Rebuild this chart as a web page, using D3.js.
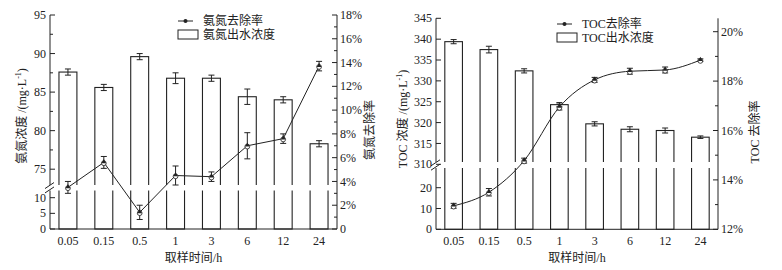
<!DOCTYPE html>
<html>
<head>
<meta charset="utf-8">
<script src="https://cdn.jsdelivr.net/npm/d3@7/dist/d3.min.js"></script>
<style>
  html, body { margin: 0; padding: 0; background: #fff; }
  svg { display: block; }
  text { font-family: "Liberation Serif", "Noto Sans CJK SC", serif; fill: #222; }
</style>
</head>
<body>
<svg id="chart" width="782" height="270"></svg>
<script>
// 取样时间（类别）
const timeLabels = ["0.05", "0.15", "0.5", "1", "3", "6", "12", "24"];

// 氨氮：出水浓度 (mg/L) 与去除率 (%)
const nh3Conc = [87.6, 85.6, 89.6, 86.8, 86.8, 84.4, 84.0, 78.3];
const nh3ConcErr = [0.4, 0.4, 0.4, 0.7, 0.4, 1.0, 0.4, 0.4];
const nh3Rate = [3.5, 5.6, 1.4, 4.5, 4.4, 7.0, 7.6, 13.7];
const nh3RateErr = [0.5, 0.5, 0.6, 0.8, 0.4, 1.1, 0.4, 0.4];

// TOC：出水浓度 (mg/L) 与去除率 (%)
const tocConc = [339.4, 337.5, 332.4, 324.3, 319.7, 318.4, 318.1, 316.5];
const tocConcErr = [0.5, 0.8, 0.5, 0.5, 0.5, 0.6, 0.6, 0.3];
const tocRate = [12.95, 13.5, 14.78, 16.95, 18.05, 18.4, 18.45, 18.85];
const tocRateErr = [0.1, 0.15, 0.1, 0.12, 0.1, 0.12, 0.12, 0.05];

// 刻度
const nh3UpperTicks = [75, 80, 85, 90, 95];
const nh3UpperMinor = [77.5, 82.5, 87.5, 92.5];
const nh3LowerTicks = [0, 5, 10];
const nh3RateTicks = [0, 2, 4, 6, 8, 10, 12, 14, 16, 18];
const nh3RateMinor = [1, 3, 5, 7, 9, 11, 13, 15, 17];
const tocUpperTicks = [310, 315, 320, 325, 330, 335, 340, 345];
const tocLowerTicks = [0, 10, 20];
const tocRateTicks = [12, 14, 16, 18, 20];
const tocRateMinor = [13, 15, 17, 19];

const svg = d3.select("#chart");
const FS = 12;

function drawPanel(o) {
  const g = svg.append("g");
  const x = d3.scaleBand().domain(timeLabels).range([o.x0, o.x1]).paddingInner(0.5).paddingOuter(0.25);
  const yU = d3.scaleLinear().domain(o.upperDomain).range(o.upperRange);
  const yL = d3.scaleLinear().domain(o.lowerDomain).range(o.lowerRange);
  const yR = d3.scaleLinear().domain(o.rateDomain).range(o.rateRange);
  const yBot = yL(0);

  // 柱：出水浓度
  g.append("g").selectAll("rect").data(o.conc).join("rect")
    .attr("x", (d, i) => x(timeLabels[i]))
    .attr("width", x.bandwidth())
    .attr("y", d => yU(d))
    .attr("height", d => yBot - yU(d))
    .attr("fill", "#fff").attr("stroke", "#222").attr("stroke-width", 1.1);

  // 断轴空白
  g.append("rect")
    .attr("x", o.x0 + 1).attr("width", o.x1 - o.x0 - 2)
    .attr("y", o.gap[0]).attr("height", o.gap[1] - o.gap[0])
    .attr("fill", "#fff");

  // 柱误差
  const cap = 3;
  const eb = g.append("g").attr("stroke", "#222").attr("stroke-width", 1);
  o.conc.forEach((d, i) => {
    const cx = x(timeLabels[i]) + x.bandwidth() / 2;
    const e = o.concErr[i];
    eb.append("line").attr("x1", cx).attr("x2", cx).attr("y1", yU(d + e)).attr("y2", yU(d - e));
    eb.append("line").attr("x1", cx - cap).attr("x2", cx + cap).attr("y1", yU(d + e)).attr("y2", yU(d + e));
    eb.append("line").attr("x1", cx - cap).attr("x2", cx + cap).attr("y1", yU(d - e)).attr("y2", yU(d - e));
  });

  // 去除率折线
  const cxOf = i => x(timeLabels[i]) + x.bandwidth() / 2;
  const line = d3.line().x((d, i) => cxOf(i)).y(d => yR(d)).curve(o.curve);
  g.append("path").attr("d", line(o.rate))
    .attr("fill", "none").attr("stroke", "#222").attr("stroke-width", 1);
  o.rate.forEach((d, i) => {
    const cx = cxOf(i), e = o.rateErr[i];
    eb.append("line").attr("x1", cx).attr("x2", cx).attr("y1", yR(d + e)).attr("y2", yR(d - e));
    eb.append("line").attr("x1", cx - cap).attr("x2", cx + cap).attr("y1", yR(d + e)).attr("y2", yR(d + e));
    eb.append("line").attr("x1", cx - cap).attr("x2", cx + cap).attr("y1", yR(d - e)).attr("y2", yR(d - e));
    g.append("circle").attr("cx", cx).attr("cy", yR(d) + 0.8).attr("r", 2.4)
      .attr("fill", "#fff").attr("stroke", "#222").attr("stroke-width", 0.8);
    g.append("path").attr("d", d3.symbol(d3.symbolTriangle, 10)())
      .attr("transform", `translate(${cx},${yR(d) - 0.6})`).attr("fill", "#222");
  });

  // 左轴（断轴：上下两段）
  const ax = g.append("g").attr("stroke", "#222").attr("stroke-width", 1);
  ax.append("line").attr("x1", o.x0).attr("x2", o.x0).attr("y1", o.yTop).attr("y2", o.gap[0]);
  ax.append("line").attr("x1", o.x0).attr("x2", o.x0).attr("y1", o.gap[1]).attr("y2", yBot);
  const gm = (o.gap[0] + o.gap[1]) / 2;
  [-2.2, 2.2].forEach(dy => {
    ax.append("line").attr("x1", o.x0 - 5).attr("x2", o.x0 + 4)
      .attr("y1", gm + dy + 3).attr("y2", gm + dy - 3);
  });
  const tickL = (scale, vals, minor) => {
    vals.forEach(v => {
      ax.append("line").attr("x1", o.x0).attr("x2", o.x0 + 5).attr("y1", scale(v)).attr("y2", scale(v));
      g.append("text").attr("x", o.x0 - 4).attr("y", scale(v)).attr("dy", "0.34em")
        .attr("text-anchor", "end").attr("font-size", FS).text(v);
    });
    (minor || []).forEach(v => {
      ax.append("line").attr("x1", o.x0).attr("x2", o.x0 + 3).attr("y1", scale(v)).attr("y2", scale(v));
    });
  };
  tickL(yU, o.upperTicks, o.upperMinor);
  tickL(yL, o.lowerTicks, []);

  // 右轴
  ax.append("line").attr("x1", o.x1).attr("x2", o.x1).attr("y1", o.yTop).attr("y2", yBot);
  o.rateTicks.forEach(v => {
    ax.append("line").attr("x1", o.x1 - 5).attr("x2", o.x1).attr("y1", yR(v)).attr("y2", yR(v));
    g.append("text").attr("x", o.x1 + 3).attr("y", yR(v)).attr("dy", "0.34em")
      .attr("font-size", FS).text(v === 0 ? "0" : v + "%");
  });
  o.rateMinor.forEach(v => {
    ax.append("line").attr("x1", o.x1 - 3).attr("x2", o.x1).attr("y1", yR(v)).attr("y2", yR(v));
  });

  // 底轴
  ax.append("line").attr("x1", o.x0).attr("x2", o.x1).attr("y1", yBot).attr("y2", yBot);
  timeLabels.forEach(t => {
    g.append("text").attr("x", x(t) + x.bandwidth() / 2).attr("y", yBot + 16)
      .attr("text-anchor", "middle").attr("font-size", FS).text(t);
  });
  g.append("text").attr("x", (o.x0 + o.x1) / 2).attr("y", yBot + 33)
    .attr("text-anchor", "middle").attr("font-size", FS).text("取样时间/h");

  // 轴标题
  const lt = g.append("text").attr("font-size", FS)
    .attr("text-anchor", "middle")
    .attr("transform", `translate(${o.leftTitleX},${o.leftTitleY}) rotate(-90)`);
  lt.append("tspan").text(o.leftTitle + " /(mg·L");
  lt.append("tspan").attr("font-size", 8).attr("dy", -5).text("-1");
  lt.append("tspan").attr("dy", 5).text(")");
  g.append("text").attr("font-size", FS).attr("text-anchor", "middle")
    .attr("transform", `translate(${o.rightTitleX},${o.rightTitleY}) rotate(-90)`)
    .text(o.rightTitle);

  // 图例
  const lg = g.append("g").attr("transform", `translate(${o.legendX},${o.legendY})`);
  lg.append("line").attr("x1", 0).attr("x2", 15).attr("y1", 0).attr("y2", 0)
    .attr("stroke", "#222").attr("stroke-width", 1);
  lg.append("circle").attr("cx", 7.5).attr("cy", 0).attr("r", 2).attr("fill", "#222");
  lg.append("text").attr("x", 25).attr("y", 0).attr("dy", "0.35em").attr("font-size", FS).text(o.legend[0]);
  lg.append("rect").attr("x", 0).attr("y", 9).attr("width", 20).attr("height", 9)
    .attr("fill", "#fff").attr("stroke", "#222").attr("stroke-width", 1);
  lg.append("text").attr("x", 25).attr("y", 14).attr("dy", "0.35em").attr("font-size", FS).text(o.legend[1]);
}

drawPanel({
  x0: 50, x1: 337, yTop: 15,
  upperDomain: [75, 95], upperRange: [169.2, 15],
  lowerDomain: [0, 10], lowerRange: [229, 197.7],
  gap: [185, 190.5],
  rateDomain: [0, 18], rateRange: [229, 15],
  conc: nh3Conc, concErr: nh3ConcErr, rate: nh3Rate, rateErr: nh3RateErr,
  upperTicks: nh3UpperTicks, upperMinor: nh3UpperMinor, lowerTicks: nh3LowerTicks,
  rateTicks: nh3RateTicks, rateMinor: nh3RateMinor,
  curve: d3.curveLinear,
  leftTitle: "氨氮浓度", leftTitleX: 26, leftTitleY: 116,
  rightTitle: "氨氮去除率", rightTitleX: 374, rightTitleY: 130,
  legend: ["氨氮去除率", "氨氮出水浓度"], legendX: 178, legendY: 21
});

drawPanel({
  x0: 436, x1: 718, yTop: 18.3,
  upperDomain: [310, 345], upperRange: [164.3, 18.3],
  lowerDomain: [0, 20], lowerRange: [229.3, 187.7],
  gap: [162, 168],
  rateDomain: [12, 20], rateRange: [229.3, 31.7],
  conc: tocConc, concErr: tocConcErr, rate: tocRate, rateErr: tocRateErr,
  upperTicks: tocUpperTicks, upperMinor: [], lowerTicks: tocLowerTicks,
  rateTicks: tocRateTicks, rateMinor: tocRateMinor,
  curve: d3.curveMonotoneX,
  leftTitle: "TOC 浓度", leftTitleX: 407, leftTitleY: 119,
  rightTitle: "TOC 去除率", rightTitleX: 759, rightTitleY: 132,
  legend: ["TOC去除率", "TOC出水浓度"], legendX: 557, legendY: 24
});
</script>
</body>
</html>
